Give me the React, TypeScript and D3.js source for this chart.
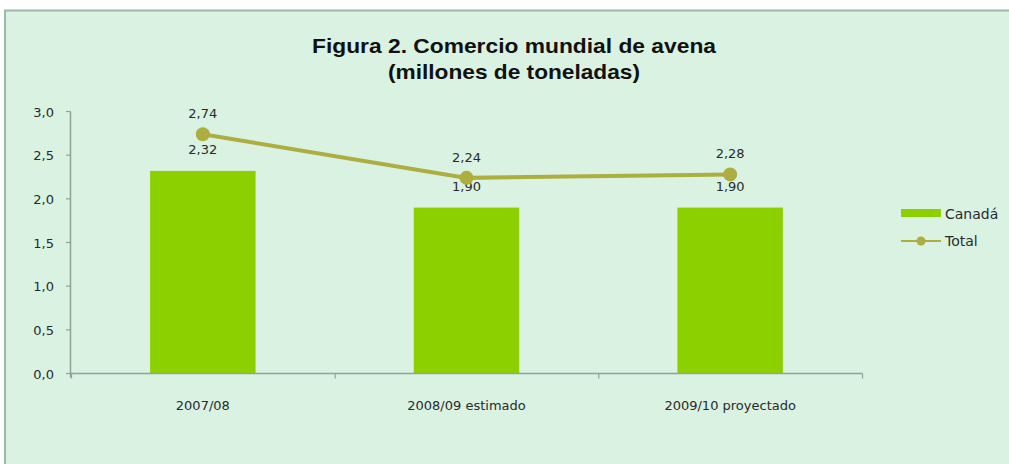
import React, { useEffect, useRef } from 'react';
import * as d3 from 'd3';

const width = 1009;
const height = 464;

const categories = ['2007/08', '2008/09 estimado', '2009/10 proyectado'];
const canada = [2.32, 1.9, 1.9];
const total = [2.74, 2.24, 2.28];
const yTicks = [0, 0.5, 1, 1.5, 2, 2.5, 3];
const titleLines = ['Figura 2. Comercio mundial de avena', '(millones de toneladas)'];

const fmt = (v: number) => v.toFixed(2).replace('.', ',');
const fmtTick = (v: number) => v.toFixed(1).replace('.', ',');

const bg = '#d9f2e2';
const barColor = '#8dd000';
const lineColor = '#adad40';
const axisColor = '#8ea596';
const textColor = '#2a2a2a';
const font = "'Liberation Sans', Arial, sans-serif";
const smallFont = "'DejaVu Sans', Verdana, sans-serif";

const App: React.FC = () => {
  const ref = useRef<SVGSVGElement>(null);

  useEffect(() => {
    if (!ref.current) return;
    const svg = d3.select(ref.current);
    svg.selectAll('*').remove();

    // frame
    svg.append('rect').attr('x', 0).attr('y', 0).attr('width', width).attr('height', height).attr('fill', '#fff');
    svg
      .append('rect')
      .attr('x', 5)
      .attr('y', 10.5)
      .attr('width', width + 10)
      .attr('height', height)
      .attr('fill', bg)
      .attr('stroke', '#9db8a6')
      .attr('stroke-width', 2);

    // title
    const widths = [404, 252];
    svg
      .append('text')
      .attr('text-anchor', 'middle')
      .attr('font-family', font)
      .attr('font-weight', 'bold')
      .attr('font-size', 21)
      .attr('fill', '#111')
      .selectAll('tspan')
      .data(titleLines)
      .enter()
      .append('tspan')
      .attr('x', 514)
      .attr('y', (_, i) => 53 + i * 26)
      .attr('textLength', (_, i) => widths[i])
      .attr('lengthAdjust', 'spacingAndGlyphs')
      .text(d => d);

    const xAxisBand = d3.scaleBand().domain(categories).range([71, 862]);
    const y = d3.scaleLinear().domain([0, 3]).range([373.5, 111.5]);
    const cx = (i: number) => xAxisBand(categories[i])! + xAxisBand.bandwidth() / 2;
    const barW = xAxisBand.bandwidth() * 0.4;

    // bars
    svg
      .append('g')
      .selectAll('rect')
      .data(canada)
      .enter()
      .append('rect')
      .attr('x', (_, i) => cx(i) - barW / 2)
      .attr('width', barW)
      .attr('y', d => y(d))
      .attr('height', d => y(0) - y(d))
      .attr('fill', barColor);

    // axes
    const g = svg.append('g').attr('font-family', smallFont).attr('font-size', 13).attr('fill', textColor);
    g.append('line')
      .attr('x1', 70.5)
      .attr('x2', 70.5)
      .attr('y1', y(3))
      .attr('y2', y(0) + 4)
      .attr('stroke', axisColor)
      .attr('stroke-width', 1.5);
    g.append('line')
      .attr('x1', 70)
      .attr('x2', 862.5)
      .attr('y1', y(0))
      .attr('y2', y(0))
      .attr('stroke', axisColor)
      .attr('stroke-width', 1.5);
    yTicks.forEach(t => {
      g.append('line')
        .attr('x1', 66)
        .attr('x2', 70.5)
        .attr('y1', y(t))
        .attr('y2', y(t))
        .attr('stroke', axisColor)
        .attr('stroke-width', 1.2);
      g.append('text')
        .attr('x', 54)
        .attr('y', y(t) + 5)
        .attr('text-anchor', 'end')
        .text(fmtTick(t));
    });
    const edges = categories.map(c => xAxisBand(c)!).concat([862]);
    edges.forEach(e => {
      g.append('line')
        .attr('x1', e + 0.5)
        .attr('x2', e + 0.5)
        .attr('y1', y(0))
        .attr('y2', y(0) + 5)
        .attr('stroke', axisColor)
        .attr('stroke-width', 1.2);
    });
    categories.forEach((c, i) => {
      g.append('text')
        .attr('x', cx(i))
        .attr('y', 410)
        .attr('text-anchor', 'middle')
        .text(c);
    });

    // line
    const line = d3
      .line<number>()
      .x((_, i) => cx(i))
      .y(d => y(d));
    svg
      .append('path')
      .datum(total)
      .attr('d', line)
      .attr('fill', 'none')
      .attr('stroke', lineColor)
      .attr('stroke-width', 4);
    svg
      .append('g')
      .selectAll('circle')
      .data(total)
      .enter()
      .append('circle')
      .attr('cx', (_, i) => cx(i))
      .attr('cy', d => y(d))
      .attr('r', 7)
      .attr('fill', lineColor);

    // data labels
    canada.forEach((v, i) => {
      g.append('text')
        .attr('x', cx(i))
        .attr('y', y(v) - 17)
        .attr('text-anchor', 'middle')
        .text(fmt(v));
    });
    total.forEach((v, i) => {
      g.append('text')
        .attr('x', cx(i))
        .attr('y', y(v) - 16)
        .attr('text-anchor', 'middle')
        .text(fmt(v));
    });

    // legend
    const lg = svg.append('g').attr('font-family', smallFont).attr('font-size', 14).attr('fill', textColor);
    lg.append('rect').attr('x', 901).attr('y', 209).attr('width', 40).attr('height', 8).attr('fill', barColor);
    lg.append('text').attr('x', 945).attr('y', 219).text('Canadá');
    lg.append('line')
      .attr('x1', 901)
      .attr('x2', 941)
      .attr('y1', 241)
      .attr('y2', 241)
      .attr('stroke', lineColor)
      .attr('stroke-width', 2);
    lg.append('circle').attr('cx', 921).attr('cy', 241).attr('r', 4.5).attr('fill', lineColor);
    lg.append('text').attr('x', 945).attr('y', 246).text('Total');
  }, []);

  return (
    <svg
      ref={ref}
      width={width}
      height={height}
      style={{ position: 'absolute', left: 0, top: 0, display: 'block' }}
    />
  );
};

export default App;
